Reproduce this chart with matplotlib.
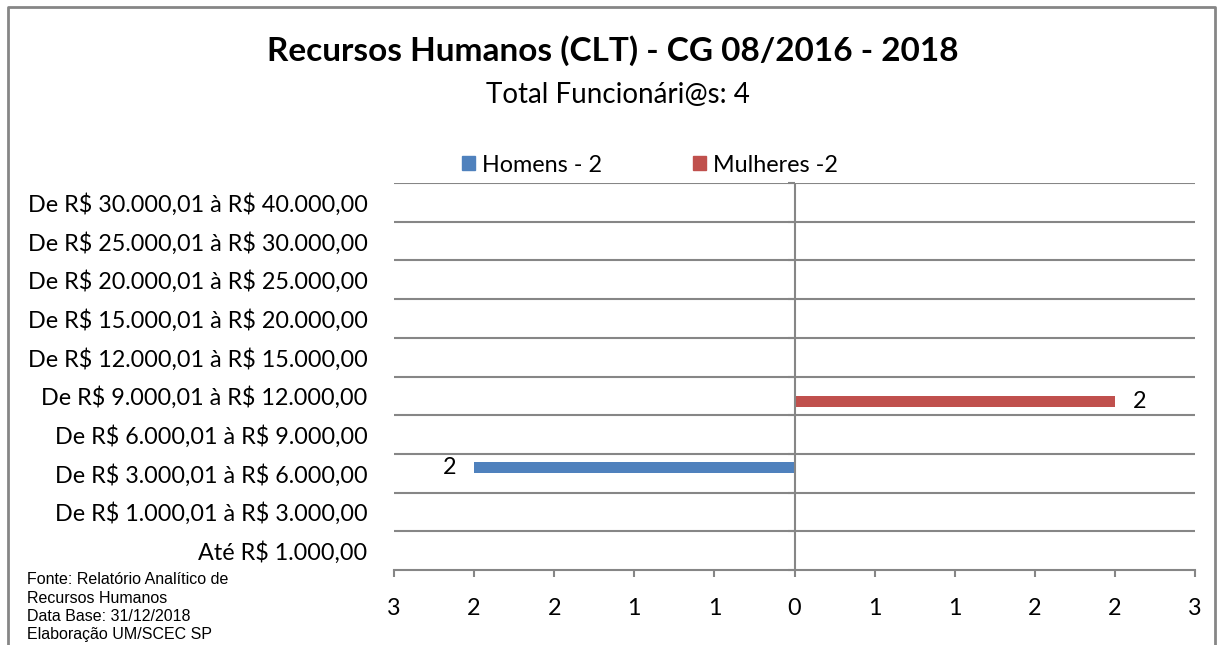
import numpy as np
import matplotlib
matplotlib.use("Agg")
import matplotlib.pyplot as plt
from matplotlib.patches import Patch
from matplotlib.markers import TICKLEFT

plt.rcParams['font.family'] = ['Lato', 'DejaVu Sans']
plt.rcParams['text.parse_math'] = False

# faixas salariais, de baixo para cima
categorias = ["Até R$ 1.000,00",
              "De R$ 1.000,01 à R$ 3.000,00",
              "De R$ 3.000,01 à R$ 6.000,00",
              "De R$ 6.000,01 à R$ 9.000,00",
              "De R$ 9.000,01 à R$ 12.000,00",
              "De R$ 12.000,01 à R$ 15.000,00",
              "De R$ 15.000,01 à R$ 20.000,00",
              "De R$ 20.000,01 à R$ 25.000,00",
              "De R$ 25.000,01 à R$ 30.000,00",
              "De R$ 30.000,01 à R$ 40.000,00"]
homens = [0, 0, 2, 0, 0, 0, 0, 0, 0, 0]
mulheres = [0, 0, 0, 0, 2, 0, 0, 0, 0, 0]
xticks = [-2.5, -2, -1.5, -1, -0.5, 0, 0.5, 1, 1.5, 2, 2.5]
xtick_labels = ["3", "2", "2", "1", "1", "0", "1", "1", "2", "2", "3"]

azul = '#4F81BD'
vermelho = '#C0504D'
cinza = '#868686'
fs = 16.8

fig = plt.figure(figsize=(12.17, 6.45), dpi=100)
ax = fig.add_axes([394/1217, 1-570/645, (1195-394)/1217, (570-183)/645])

y = np.arange(len(categorias))
ax.barh(y + 0.15, -np.array(homens), height=0.3, color=azul, zorder=3)
ax.barh(y - 0.15, mulheres, height=0.3, color=vermelho, zorder=3)

for i in range(len(categorias)):
    if homens[i]:
        ax.text(-homens[i] - 0.11, y[i] + 0.15, str(homens[i]), ha='right', va='center', fontsize=fs)
    if mulheres[i]:
        ax.text(mulheres[i] + 0.11, y[i] - 0.15, str(mulheres[i]), ha='left', va='center', fontsize=fs)

ax.set_xlim(-2.5, 2.5)
ax.set_ylim(-0.5, len(categorias) - 0.5)
limites = np.arange(len(categorias) + 1) - 0.5
for b in limites[1:]:
    ax.axhline(b, color=cinza, lw=1.5, zorder=1)
ax.axvline(0, color=cinza, lw=1.5, zorder=4)
# marcas do eixo vertical em x=0
ax.plot(np.zeros(len(limites)), limites, ls='none', marker=TICKLEFT, ms=5, mew=1.5,
        color=cinza, zorder=4, clip_on=False)

ax.set_yticks(y)
ax.set_yticklabels(categorias, fontsize=fs)
ax.tick_params(axis='y', length=0, pad=19)
ax.set_xticks(xticks)
ax.set_xticklabels(xtick_labels, fontsize=fs)
ax.tick_params(axis='x', length=5, width=1.5, color=cinza, pad=15)

for s in ['top', 'right', 'left']:
    ax.spines[s].set_visible(False)
ax.spines['bottom'].set_color(cinza)
ax.spines['bottom'].set_linewidth(1.5)

fig.text(613/1217, 1-51/645, "Recursos Humanos (CLT) - CG 08/2016 - 2018",
         ha='center', va='center', fontsize=24, fontweight='bold')
fig.text(618/1217, 1-95/645, "Total Funcionári@s: 4", ha='center', va='center', fontsize=20)

handles = [Patch(color=azul), Patch(color=vermelho)]
fig.legend(handles, ["Homens - 2", "Mulheres -2"], loc='center', bbox_to_anchor=(650/1217, 1-165/645),
           ncol=2, frameon=False, fontsize=fs, handlelength=0.55, handleheight=0.55,
           handletextpad=0.3, columnspacing=3.9)

fonte = ["Fonte: Relatório Analítico de", "Recursos Humanos",
         "Data Base: 31/12/2018", "Elaboração UM/SCEC SP"]
for i, linha in enumerate(fonte):
    fig.text(27/1217, 1-(580 + 18.3*i)/645, linha, ha='left', va='center',
             fontsize=11.5, family='Liberation Sans')

# moldura do gráfico
borda = plt.Line2D([8/1217, 8/1217, 1215/1217, 1215/1217], [0, 1-7/645, 1-7/645, 0],
                   transform=fig.transFigure, color=cinza, lw=2)
fig.add_artist(borda)

fig.savefig('out.png', dpi=100)
